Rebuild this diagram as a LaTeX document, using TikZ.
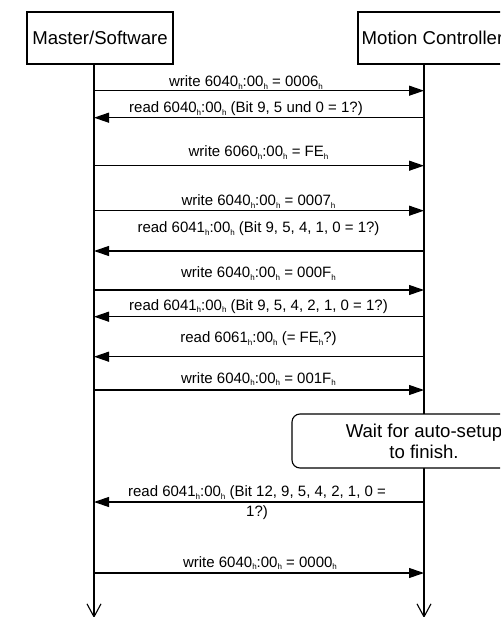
\documentclass[tikz,border=0pt]{standalone}
\usepackage{fontspec}
\setmainfont{Liberation Sans}
\usetikzlibrary{arrows.meta}
\newcommand\hsub{\raisebox{-2.8pt}{\fontsize{8}{9}\selectfont h}}
\begin{document}
\begin{tikzpicture}[x=1pt,y=-1pt,line width=1.1pt,
  actor/.style={draw,minimum height=52pt,inner sep=0pt,font=\fontsize{18.6}{22}\selectfont},
  msgtxt/.style={inner sep=0pt,anchor=base,font=\fontsize{15}{17}\selectfont},
  msg/.style={-{Triangle[length=15pt,width=10pt]}},
  life/.style={-{Straight Barb[length=13pt,width=14pt]}},
  note/.style={draw,rounded corners=8pt,minimum width=264pt,minimum height=54pt,align=center,inner sep=0pt,font=\fontsize{18.6}{21}\selectfont}]
\path[use as bounding box] (0,0) rectangle (500,617);
\clip (0,0) rectangle (500,617);
% actors
\node[actor,minimum width=146pt] (master) at (100,38) {Master/Software};
\node[actor,minimum width=149pt] (ctrl) at (432.5,38) {Motion Controller};
% lifelines
\coordinate (mtop) at (94,64);
\coordinate (mbot) at (94,618);
\coordinate (ctop) at (424,64);
\coordinate (cbot) at (424,618);
\draw[life] (mtop) -- (mbot);
\draw[life] (ctop) -- (cbot);
% message endpoints
\foreach \n/\y in {1/90.7,2/117.7,3/165.7,4/210.7,5/251,6/290,7/316.7,8/356.7,9/390,11/502,12/573}{
  \coordinate (m\n) at (94,\y);
  \coordinate (c\n) at (424,\y);
}
% messages
\draw[msg] (m1) -- (c1);
\node[msgtxt] (t1) at (246,86.5) {write 6040\hsub:00\hsub{} = 0006\hsub};
\draw[msg] (c2) -- (m2);
\node[msgtxt] (t2) at (246,113) {read 6040\hsub:00\hsub{} (Bit 9, 5 und 0 = 1?)};
\draw[msg] (m3) -- (c3);
\node[msgtxt] (t3) at (258.5,157) {write 6060\hsub:00\hsub{} = FE\hsub};
\draw[msg] (m4) -- (c4);
\node[msgtxt] (t4) at (258.5,206) {write 6040\hsub:00\hsub{} = 0007\hsub};
\draw[msg] (c5) -- (m5);
\node[msgtxt] (t5) at (258.5,233) {read 6041\hsub:00\hsub{} (Bit 9, 5, 4, 1, 0 = 1?)};
\draw[msg] (m6) -- (c6);
\node[msgtxt] (t6) at (258.5,277.7) {write 6040\hsub:00\hsub{} = 000F\hsub};
\draw[msg] (c7) -- (m7);
\node[msgtxt] (t7) at (258.5,310) {read 6041\hsub:00\hsub{} (Bit 9, 5, 4, 2, 1, 0 = 1?)};
\draw[msg] (c8) -- (m8);
\node[msgtxt] (t8) at (258.5,342.7) {read 6061\hsub:00\hsub{} (= FE\hsub?)};
\draw[msg] (m9) -- (c9);
\node[msgtxt] (t9) at (258.5,383) {write 6040\hsub:00\hsub{} = 001F\hsub};
% note
\node[note,fill=white] (wait) at (424,441) {Wait for auto-setup\\to finish.};
\draw[msg] (c11) -- (m11);
\node[inner sep=0pt,align=center,font=\fontsize{15}{20}\selectfont] (t11) at (257,503) {read 6041\hsub:00\hsub{} (Bit 12, 9, 5, 4, 2, 1, 0 =\\1?)};
\draw[msg] (m12) -- (c12);
\node[msgtxt] (t12) at (260,567) {write 6040\hsub:00\hsub{} = 0000\hsub};
\end{tikzpicture}
\end{document}
